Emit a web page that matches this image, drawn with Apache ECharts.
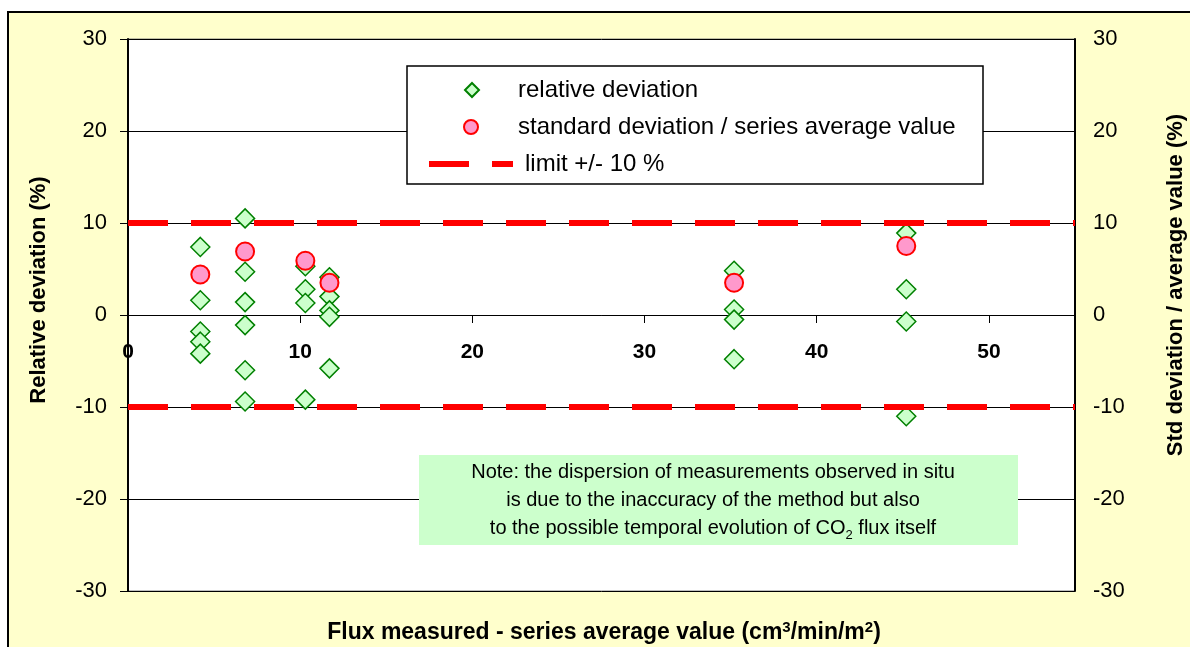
<!DOCTYPE html>
<html>
<head>
<meta charset="utf-8">
<script src="https://cdn.jsdelivr.net/npm/echarts@6/dist/echarts.min.js"></script>
<style>
  html, body { margin: 0; padding: 0; background: #fff; }
  #frame {
    position: absolute; left: 7px; top: 11px;
    width: 1200px; height: 700px;
    border: 2px solid #000; background: #FFFFCC;
  }
  #main { position: absolute; left: 0; top: 0; width: 1190px; height: 647px; }
</style>
</head>
<body>
<div id="frame"></div>
<div id="main"></div>
<script>
  // series average flux (x) for each measuring series
  const fluxAvg = [4.2, 6.8, 10.3, 11.7, 35.2, 45.2];
  // relative deviation of each measurement in the series (%)
  const relDev = [
    [7.4, 1.6, -1.8, -2.9, -4.2],
    [10.5, 4.7, 1.4, -1.1, -6.0, -9.4],
    [5.3, 2.8, 1.3, -9.2],
    [4.1, 2.0, 0.5, -0.2, -5.8],
    [4.8, 0.6, -0.5, -4.8],
    [8.9, 2.8, -0.7, -11.0]
  ];
  // std deviation / series average (%)
  const stdRatio = [4.4, 6.9, 5.9, 3.5, 3.5, 7.5];
  const limitX = [0, 55];
  const limitY = [10, -10];
  const yRange = [-30, 30];
  const xRange = [0, 55];

  const font = '"Liberation Sans", Arial, sans-serif';

  let devData = [];
  fluxAvg.forEach(function (x, i) {
    relDev[i].forEach(function (v) { devData.push([x, v]); });
  });
  const stdData = fluxAvg.map(function (x, i) { return [x, stdRatio[i]]; });

  const limitStyle = { color: '#FF0000', width: 6, type: [40, 23] };
  const legendText = { fontFamily: font, fontSize: 24, color: '#000' };

  const chart = echarts.init(document.getElementById('main'));
  chart.setOption({
    animation: false,
    textStyle: { fontFamily: font },
    grid: {
      left: 128, right: 115, top: 39, bottom: 56,
      outerBoundsMode: 'none',
      show: true, backgroundColor: '#fff', borderColor: '#808080', borderWidth: 1
    },
    legend: [
      {
        data: ['relative deviation'], left: 464, top: 78, padding: 0,
        itemWidth: 14, itemHeight: 14, selectedMode: false,
        textStyle: Object.assign({ padding: [0, 0, 0, 34] }, legendText)
      },
      {
        data: ['standard deviation / series average value'], left: 463, top: 115, padding: 0,
        itemWidth: 14, itemHeight: 14, selectedMode: false,
        textStyle: Object.assign({ padding: [0, 0, 0, 35] }, legendText)
      },
      {
        // dashed line icon: two red bars
        data: [{ name: 'limit +/- 10 %', icon: 'path://M0,0H40V6H0Z M63,0H84V6H63Z' }],
        left: 429, top: 152, padding: 0,
        itemWidth: 84, itemHeight: 6, selectedMode: false,
        textStyle: Object.assign({ padding: [0, 0, 0, 7] }, legendText)
      }
    ],
    xAxis: {
      type: 'value', min: xRange[0], max: xRange[1], interval: 10,
      // axis crosses the plot at y = 0
      offset: -276,
      axisLine: { onZero: false, lineStyle: { color: '#000', width: 1 } },
      axisTick: { length: 8, lineStyle: { color: '#000' } },
      axisLabel: {
        margin: 27, fontSize: 21, fontWeight: 'bold', color: '#000',
        fontFamily: font, showMaxLabel: false
      },
      splitLine: { show: false }
    },
    yAxis: [
      {
        type: 'value', min: yRange[0], max: yRange[1], interval: 10,
        name: 'Relative deviation (%)', nameLocation: 'middle', nameGap: 78, nameRotate: 90,
        nameTextStyle: { fontSize: 22, fontWeight: 'bold', color: '#000', fontFamily: font, padding: [0, 0, 0, 50] },
        axisLine: { show: true, lineStyle: { color: '#000', width: 2 } },
        axisTick: { show: true, length: 8, lineStyle: { color: '#000' } },
        axisLabel: { margin: 21, fontSize: 22, color: '#000', fontFamily: font },
        splitLine: { lineStyle: { color: '#000', width: 1 } }
      },
      {
        type: 'value', min: yRange[0], max: yRange[1], interval: 10, position: 'right',
        name: 'Std deviation / average value (%)', nameLocation: 'middle', nameGap: 90, nameRotate: 90,
        nameTextStyle: { fontSize: 22, fontWeight: 'bold', color: '#000', fontFamily: font, padding: [0, 0, 0, 60] },
        axisLine: { show: true, lineStyle: { color: '#000', width: 2 } },
        axisTick: { show: true, inside: true, length: 8, lineStyle: { color: '#000' } },
        axisLabel: { margin: 18, fontSize: 22, color: '#000', fontFamily: font },
        splitLine: { show: false }
      }
    ],
    graphic: [
      // legend box
      {
        type: 'rect', z: 3, silent: true,
        shape: { x: 407, y: 66, width: 576, height: 118 },
        style: { fill: '#fff', stroke: '#000', lineWidth: 1.5 }
      },
      // note box
      {
        type: 'rect', z: 3, silent: true,
        shape: { x: 419, y: 455, width: 599, height: 90 },
        style: { fill: '#CCFFCC' }
      },
      {
        type: 'text', z: 4, silent: true, x: 713, y: 500,
        style: {
          text: '{n|Note: the dispersion of measurements observed in situ}\n' +
                '{n|is due to the inaccuracy of the method but also}\n' +
                '{n|to the possible temporal evolution of CO}{s|2}{n| flux itself}',
          align: 'center', verticalAlign: 'middle', fill: '#000',
          rich: {
            n: { fontFamily: font, fontSize: 20, lineHeight: 28, fill: '#000' },
            s: { fontFamily: font, fontSize: 13, lineHeight: 28, verticalAlign: 'bottom', fill: '#000' }
          }
        }
      },
      // x axis title
      {
        type: 'text', z: 4, silent: true, x: 604, y: 633,
        style: {
          text: '{b|Flux measured - series average value (cm}{p|3}{b|/min/m}{p|2}{b|)}',
          align: 'center', verticalAlign: 'middle', fill: '#000',
          rich: {
            b: { fontFamily: font, fontSize: 23, fontWeight: 'bold', lineHeight: 26, fill: '#000' },
            p: { fontFamily: font, fontSize: 15, fontWeight: 'bold', lineHeight: 26, verticalAlign: 'top', fill: '#000' }
          }
        }
      }
    ],
    series: [
      {
        name: 'relative deviation', type: 'scatter', data: devData,
        symbol: 'diamond', symbolSize: 19,
        itemStyle: { color: '#CCFFCC', borderColor: '#008000', borderWidth: 1.5, opacity: 1 }
      },
      {
        name: 'limit +/- 10 %', type: 'line', symbol: 'none', silent: true,
        data: limitX.map(function (x) { return [x, limitY[0]]; }),
        itemStyle: { color: '#FF0000' },
        lineStyle: limitStyle
      },
      {
        name: 'limit +/- 10 %', type: 'line', symbol: 'none', silent: true,
        data: limitX.map(function (x) { return [x, limitY[1]]; }),
        itemStyle: { color: '#FF0000' },
        lineStyle: limitStyle
      },
      {
        name: 'standard deviation / series average value', type: 'scatter', yAxisIndex: 1,
        data: stdData, symbol: 'circle', symbolSize: 18,
        itemStyle: { color: '#FF99CC', borderColor: '#FF0000', borderWidth: 2, opacity: 1 }
      }
    ]
  });
</script>
</body>
</html>
